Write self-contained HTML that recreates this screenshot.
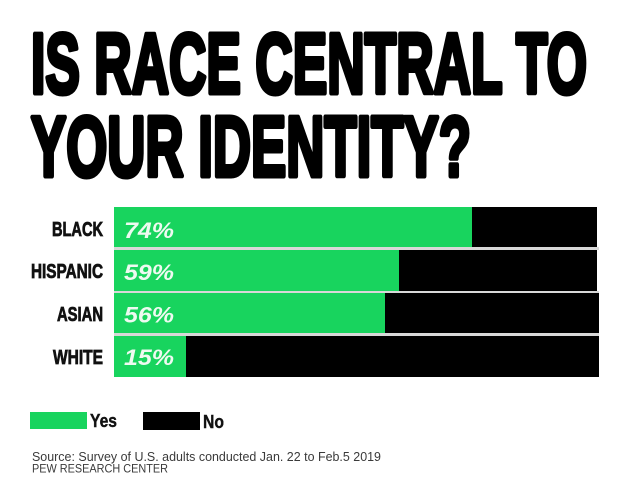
<!DOCTYPE html>
<html>
<head>
<meta charset="utf-8">
<style>
html,body{margin:0;padding:0;background:#fff;}
svg{display:block;}
</style>
</head>
<body>
<svg width="618" height="494" viewBox="0 0 618 494" xmlns="http://www.w3.org/2000/svg">
<rect x="0" y="0" width="618" height="494" fill="#ffffff"/>
<g font-family="'Liberation Sans', Arial, sans-serif" font-weight="bold" fill="#000" stroke="#000" stroke-linejoin="round">
  <text x="31" y="93" font-size="85" stroke-width="5" textLength="556" lengthAdjust="spacingAndGlyphs">IS RACE CENTRAL TO</text>
  <text x="31" y="176" font-size="85" stroke-width="5" textLength="440" lengthAdjust="spacingAndGlyphs">YOUR IDENTITY?</text>
</g>
<!-- gaps -->
<rect x="114" y="247" width="485" height="3" fill="#d8d8d8"/>
<rect x="114" y="291" width="485" height="2" fill="#d8d8d8"/>
<rect x="114" y="333" width="485" height="3" fill="#d8d8d8"/>
<!-- bars -->
<rect x="114" y="207" width="483" height="40" fill="#000"/>
<rect x="114" y="207" width="358" height="40" fill="#18d45e"/>
<rect x="114" y="250" width="483" height="41" fill="#000"/>
<rect x="114" y="250" width="285" height="41" fill="#18d45e"/>
<rect x="114" y="293" width="485" height="40" fill="#000"/>
<rect x="114" y="293" width="271" height="40" fill="#18d45e"/>
<rect x="114" y="336" width="485" height="41" fill="#000"/>
<rect x="114" y="336" width="72" height="41" fill="#18d45e"/>
<!-- category labels -->
<g font-family="'Liberation Sans', Arial, sans-serif" font-weight="bold" fill="#111" stroke="#111" stroke-width="0.8" font-size="20">
  <text x="52" y="236" textLength="51" lengthAdjust="spacingAndGlyphs">BLACK</text>
  <text x="31" y="278" textLength="72" lengthAdjust="spacingAndGlyphs">HISPANIC</text>
  <text x="57" y="321" textLength="46" lengthAdjust="spacingAndGlyphs">ASIAN</text>
  <text x="53" y="364" textLength="50" lengthAdjust="spacingAndGlyphs">WHITE</text>
</g>
<!-- percent labels -->
<g font-family="'Liberation Sans', Arial, sans-serif" font-weight="bold" font-style="italic" fill="#eefaf1" font-size="22">
  <text x="124" y="238" textLength="50" lengthAdjust="spacingAndGlyphs">74%</text>
  <text x="124" y="280" textLength="50" lengthAdjust="spacingAndGlyphs">59%</text>
  <text x="124" y="322.5" textLength="50" lengthAdjust="spacingAndGlyphs">56%</text>
  <text x="124" y="365" textLength="50" lengthAdjust="spacingAndGlyphs">15%</text>
</g>
<!-- legend -->
<rect x="30" y="412" width="57" height="17" fill="#18d45e"/>
<rect x="143" y="412" width="57" height="18" fill="#000"/>
<g font-family="'Liberation Sans', Arial, sans-serif" font-weight="bold" fill="#111" stroke="#111" stroke-width="0.4" font-size="18">
  <text x="90" y="427" textLength="27" lengthAdjust="spacingAndGlyphs">Yes</text>
  <text x="203" y="428" textLength="21" lengthAdjust="spacingAndGlyphs">No</text>
</g>
<!-- source -->
<g font-family="'Liberation Sans', Arial, sans-serif" fill="#3a3a3a">
  <text x="32" y="461" font-size="13" textLength="349" lengthAdjust="spacingAndGlyphs">Source: Survey of U.S. adults conducted Jan. 22 to Feb.5 2019</text>
  <text x="32" y="472.5" font-size="11.5" textLength="136" lengthAdjust="spacingAndGlyphs">PEW RESEARCH CENTER</text>
</g>
</svg>
</body>
</html>
